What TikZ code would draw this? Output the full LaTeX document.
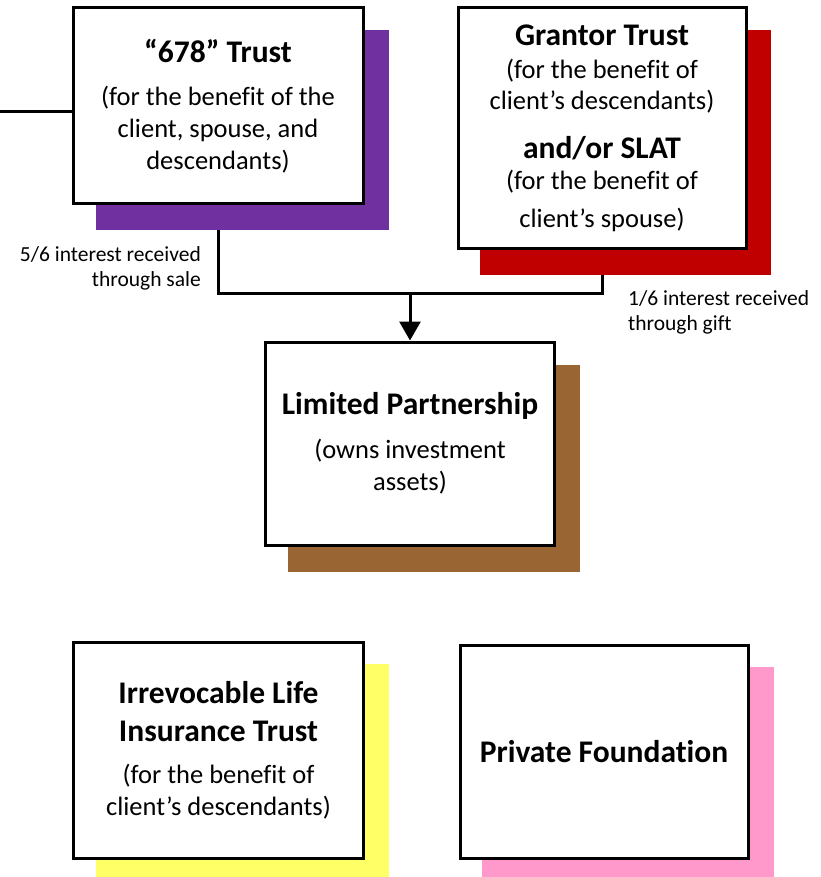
\documentclass[tikz,border=0pt]{standalone}
\usepackage{fontspec}
\setmainfont[Ligatures=CommonOff]{Carlito}
\usetikzlibrary{arrows.meta,backgrounds}
\definecolor{shpurple}{HTML}{7030A0}
\definecolor{shred}{HTML}{C00000}
\definecolor{shbrown}{HTML}{996633}
\definecolor{shyellow}{HTML}{FFFF66}
\definecolor{shpink}{HTML}{FF99CC}
\newcommand{\ttlfont}{\fontsize{31.5}{38}\selectfont\bfseries}
\newcommand{\bdyfont}{\fontsize{26.5}{32}\selectfont}
\newcommand{\grfont}{\fontsize{26.5}{31}\selectfont}
\newcommand{\lblfont}{\fontsize{21.5}{25}\selectfont}
\begin{document}
\begin{tikzpicture}[x=1pt,y=-1pt,
  box/.style={draw=black, line width=3pt, fill=white, inner sep=0pt, align=center, font=\bdyfont},
  conn/.style={draw=black, line width=3pt, line join=miter},
  lbl/.style={font=\lblfont, inner sep=0pt}]
\useasboundingbox (0,0) rectangle (820,877);

% boxes
\node[box, minimum width=290pt, minimum height=196pt] (t678) at (218,106)
  {{\ttlfont “678” Trust}\\[11pt](for the benefit of the\\client, spouse, and\\descendants)};
\node[box, font=\grfont, minimum width=288pt, minimum height=240pt] (grantor) at (602,128)
  {{\ttlfont Grantor Trust}\\[2pt](for the benefit of\\client’s descendants)\\[18pt]{\ttlfont and/or SLAT}\\(for the benefit of\\[7pt]client’s spouse)};
\node[box, minimum width=289pt, minimum height=203pt] (lp) at (410,443.5)
  {{\ttlfont Limited Partnership}\\[12pt](owns investment\\assets)};
\node[box, minimum width=290pt, minimum height=216pt] (ilit) at (218.5,750)
  {{\ttlfont Irrevocable Life}\\[6pt]{\ttlfont Insurance Trust}\\[10pt](for the benefit of\\client’s descendants)};
\node[box, minimum width=288pt, minimum height=213pt] (pf) at (604,751.5)
  {{\ttlfont Private Foundation}};

% labels
\node[lbl, anchor=north east, align=right] (l56) at (201,246) {5/6 interest received\\through sale};
\node[lbl, anchor=north west, align=left] (l16) at (628,290) {1/6 interest received\\through gift};

\coordinate (lft) at (0,112);
\coordinate (j) at (410,293);

\begin{scope}[on background layer]
  \draw[conn] (lft) -- (lft -| t678.west);
  \draw[conn] (t678.south) |- (j) -| (grantor.south);
  \draw[conn, -{Triangle[width=21pt,length=19pt]}] (j) -- (lp.north);
  \fill[shpurple] ([shift={(24,24)}]t678.north west) rectangle ([shift={(24,25)}]t678.south east);
  \fill[shred] ([shift={(23.5,24)}]grantor.north west) rectangle ([shift={(23.5,25)}]grantor.south east);
  \fill[shbrown] ([shift={(23.5,24)}]lp.north west) rectangle ([shift={(24,25)}]lp.south east);
  \fill[shyellow] ([shift={(24,23)}]ilit.north west) rectangle ([shift={(24,25)}]ilit.south east);
  \fill[shpink] ([shift={(23.5,23)}]pf.north west) rectangle ([shift={(24,25)}]pf.south east);
\end{scope}
\end{tikzpicture}
\end{document}
